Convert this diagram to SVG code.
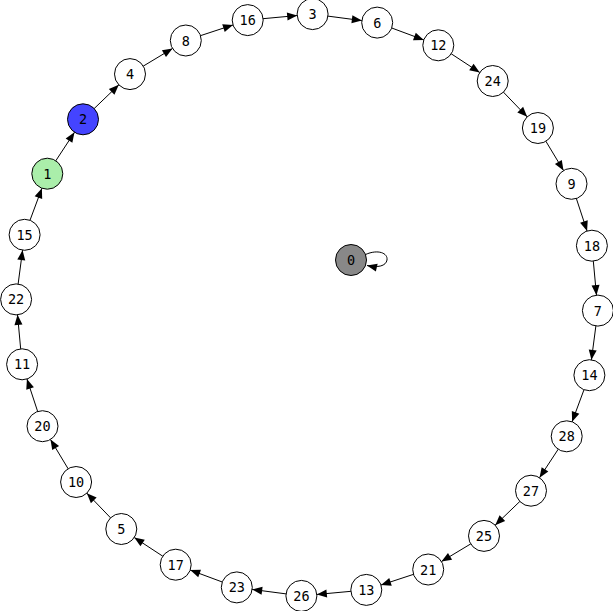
<svg xmlns="http://www.w3.org/2000/svg" width="613" height="611" viewBox="0 0 613 611">
<style>
.n circle{fill:#fff;stroke:#000;stroke-width:1}
.n text{font-family:"DejaVu Sans Mono",monospace;font-size:13.5px;text-anchor:middle;dominant-baseline:central;fill:#000}
.e{stroke:#000;stroke-width:1;fill:none;marker-end:url(#a)}
.l{stroke:#000;stroke-width:1;fill:none;marker-end:url(#b)}
</style>
<defs>
<marker id="a" markerUnits="userSpaceOnUse" markerWidth="26" markerHeight="8" refX="25.5" refY="4" orient="auto" overflow="visible"><path d="M0,0 L10,4 L0,8 z" fill="#000"/></marker>
<marker id="b" markerUnits="userSpaceOnUse" markerWidth="10" markerHeight="8" refX="10" refY="4" orient="auto" overflow="visible"><path d="M0,0 L10,4 L0,8 z" fill="#000"/></marker>
</defs>
<rect width="613" height="611" fill="#fff"/>
<g id="edges">
<line class="e" x1="47.3" y1="173.7" x2="83.0" y2="119.3"/>
<line class="e" x1="83.0" y1="119.3" x2="130.0" y2="74.1"/>
<line class="e" x1="130.0" y1="74.1" x2="185.8" y2="40.5"/>
<line class="e" x1="185.8" y1="40.5" x2="247.7" y2="20.1"/>
<line class="e" x1="247.7" y1="20.1" x2="312.6" y2="14.1"/>
<line class="e" x1="312.6" y1="14.1" x2="377.2" y2="22.6"/>
<line class="e" x1="377.2" y1="22.6" x2="438.3" y2="45.3"/>
<line class="e" x1="438.3" y1="45.3" x2="492.7" y2="81.0"/>
<line class="e" x1="492.7" y1="81.0" x2="537.9" y2="128.0"/>
<line class="e" x1="537.9" y1="128.0" x2="571.5" y2="183.8"/>
<line class="e" x1="571.5" y1="183.8" x2="591.9" y2="245.7"/>
<line class="e" x1="591.9" y1="245.7" x2="597.9" y2="310.6"/>
<line class="e" x1="597.9" y1="310.6" x2="589.4" y2="375.2"/>
<line class="e" x1="589.4" y1="375.2" x2="566.7" y2="436.3"/>
<line class="e" x1="566.7" y1="436.3" x2="531.0" y2="490.7"/>
<line class="e" x1="531.0" y1="490.7" x2="484.0" y2="535.9"/>
<line class="e" x1="484.0" y1="535.9" x2="428.2" y2="569.5"/>
<line class="e" x1="428.2" y1="569.5" x2="366.3" y2="589.9"/>
<line class="e" x1="366.3" y1="589.9" x2="301.4" y2="595.9"/>
<line class="e" x1="301.4" y1="595.9" x2="236.8" y2="587.4"/>
<line class="e" x1="236.8" y1="587.4" x2="175.7" y2="564.7"/>
<line class="e" x1="175.7" y1="564.7" x2="121.3" y2="529.0"/>
<line class="e" x1="121.3" y1="529.0" x2="76.1" y2="482.0"/>
<line class="e" x1="76.1" y1="482.0" x2="42.5" y2="426.2"/>
<line class="e" x1="42.5" y1="426.2" x2="22.1" y2="364.3"/>
<line class="e" x1="22.1" y1="364.3" x2="16.1" y2="299.4"/>
<line class="e" x1="16.1" y1="299.4" x2="24.6" y2="234.8"/>
<line class="e" x1="24.6" y1="234.8" x2="47.3" y2="173.7"/>
<path class="l" d="M365.5,254.5 C378,249 388,253 387,260 C386,266 378,268 367,265.5"/>
</g>
<g id="node-0" class="n"><circle cx="351" cy="260" r="15.5" style="fill:#888888"/><text x="351" y="260">0</text></g>
<g id="node-1" class="n"><circle cx="47.3" cy="173.7" r="15.5" style="fill:#aaeeaa"/><text x="47.3" y="173.7">1</text></g>
<g id="node-2" class="n"><circle cx="83.0" cy="119.3" r="15.5" style="fill:#4444ff"/><text x="83.0" y="119.3">2</text></g>
<g id="node-4" class="n"><circle cx="130.0" cy="74.1" r="15.5"/><text x="130.0" y="74.1">4</text></g>
<g id="node-8" class="n"><circle cx="185.8" cy="40.5" r="15.5"/><text x="185.8" y="40.5">8</text></g>
<g id="node-16" class="n"><circle cx="247.7" cy="20.1" r="15.5"/><text x="247.7" y="20.1">16</text></g>
<g id="node-3" class="n"><circle cx="312.6" cy="14.1" r="15.5"/><text x="312.6" y="14.1">3</text></g>
<g id="node-6" class="n"><circle cx="377.2" cy="22.6" r="15.5"/><text x="377.2" y="22.6">6</text></g>
<g id="node-12" class="n"><circle cx="438.3" cy="45.3" r="15.5"/><text x="438.3" y="45.3">12</text></g>
<g id="node-24" class="n"><circle cx="492.7" cy="81.0" r="15.5"/><text x="492.7" y="81.0">24</text></g>
<g id="node-19" class="n"><circle cx="537.9" cy="128.0" r="15.5"/><text x="537.9" y="128.0">19</text></g>
<g id="node-9" class="n"><circle cx="571.5" cy="183.8" r="15.5"/><text x="571.5" y="183.8">9</text></g>
<g id="node-18" class="n"><circle cx="591.9" cy="245.7" r="15.5"/><text x="591.9" y="245.7">18</text></g>
<g id="node-7" class="n"><circle cx="597.9" cy="310.6" r="15.5"/><text x="597.9" y="310.6">7</text></g>
<g id="node-14" class="n"><circle cx="589.4" cy="375.2" r="15.5"/><text x="589.4" y="375.2">14</text></g>
<g id="node-28" class="n"><circle cx="566.7" cy="436.3" r="15.5"/><text x="566.7" y="436.3">28</text></g>
<g id="node-27" class="n"><circle cx="531.0" cy="490.7" r="15.5"/><text x="531.0" y="490.7">27</text></g>
<g id="node-25" class="n"><circle cx="484.0" cy="535.9" r="15.5"/><text x="484.0" y="535.9">25</text></g>
<g id="node-21" class="n"><circle cx="428.2" cy="569.5" r="15.5"/><text x="428.2" y="569.5">21</text></g>
<g id="node-13" class="n"><circle cx="366.3" cy="589.9" r="15.5"/><text x="366.3" y="589.9">13</text></g>
<g id="node-26" class="n"><circle cx="301.4" cy="595.9" r="15.5"/><text x="301.4" y="595.9">26</text></g>
<g id="node-23" class="n"><circle cx="236.8" cy="587.4" r="15.5"/><text x="236.8" y="587.4">23</text></g>
<g id="node-17" class="n"><circle cx="175.7" cy="564.7" r="15.5"/><text x="175.7" y="564.7">17</text></g>
<g id="node-5" class="n"><circle cx="121.3" cy="529.0" r="15.5"/><text x="121.3" y="529.0">5</text></g>
<g id="node-10" class="n"><circle cx="76.1" cy="482.0" r="15.5"/><text x="76.1" y="482.0">10</text></g>
<g id="node-20" class="n"><circle cx="42.5" cy="426.2" r="15.5"/><text x="42.5" y="426.2">20</text></g>
<g id="node-11" class="n"><circle cx="22.1" cy="364.3" r="15.5"/><text x="22.1" y="364.3">11</text></g>
<g id="node-22" class="n"><circle cx="16.1" cy="299.4" r="15.5"/><text x="16.1" y="299.4">22</text></g>
<g id="node-15" class="n"><circle cx="24.6" cy="234.8" r="15.5"/><text x="24.6" y="234.8">15</text></g>
</svg>
